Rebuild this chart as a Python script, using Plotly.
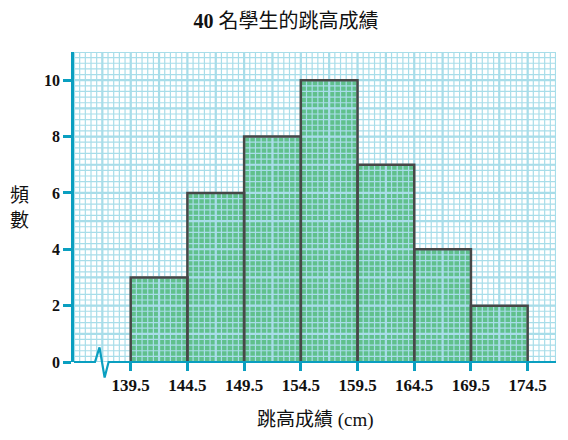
import numpy as np
import plotly.graph_objects as go

# ---------------- data ----------------
bin_edges = [139.5, 144.5, 149.5, 154.5, 159.5, 164.5, 169.5, 174.5]
frequencies = [3, 6, 8, 10, 7, 4, 2]
x_tick_labels = ["139.5", "144.5", "149.5", "154.5", "159.5", "164.5", "169.5", "174.5"]
y_tick_values = [0, 2, 4, 6, 8, 10]
y_tick_labels = ["0", "2", "4", "6", "8", "10"]

title_text = "<b>40</b> 名學生的跳高成績"
x_title_text = "跳高成績 (cm)"
y_title_text = "頻<br>數"

# ---------------- styles ----------------
X_RANGE = [134.5, 177.0]
Y_RANGE = [0.0, 11.0]
BAR_GREEN = "#60c08c"
OUTLINE = "#474747"
GRID = "#a8dde9"
AXIS = "#0a9fc0"
SERIF = "Liberation Serif, DejaVu Serif, serif"
CJK = "Noto Sans CJK TC, Noto Sans CJK SC, sans-serif"
MIXED = "Liberation Serif, Noto Sans CJK TC, serif"

# the page body has an 8px margin; size the figure so it fits the 568x440 window
PAGE_PAD = 8
FIG_W, FIG_H = 568 - 2 * PAGE_PAD, 440 - 2 * PAGE_PAD
PLOT_L, PLOT_T, PLOT_W, PLOT_H = 74 - PAGE_PAD, 52 - PAGE_PAD, 482, 310

fig = go.Figure()

# bars (fill only; outline drawn above the graph-paper grid)
lefts = bin_edges[:-1]
rights = bin_edges[1:]
mids = [(a + b) / 2 for a, b in zip(lefts, rights)]
widths = [b - a for a, b in zip(lefts, rights)]
fig.add_trace(go.Bar(
    x=mids, y=frequencies, width=widths,
    marker=dict(color=BAR_GREEN, line=dict(width=0)),
    hoverinfo="skip", showlegend=False,
))


# graph-paper grid drawn on top of the bars
def grid_trace(xstep, ystep, width):
    xs, ys = [], []
    for v in np.arange(X_RANGE[0], X_RANGE[1] + 1e-9, xstep):
        xs += [v, v, None]
        ys += [Y_RANGE[0], Y_RANGE[1], None]
    for v in np.arange(Y_RANGE[0], Y_RANGE[1] + 1e-9, ystep):
        xs += [X_RANGE[0], X_RANGE[1], None]
        ys += [v, v, None]
    return go.Scatter(x=xs, y=ys, mode="lines",
                      line=dict(color=GRID, width=width),
                      hoverinfo="skip", showlegend=False)


fig.add_trace(grid_trace(0.5, 0.2, 1.2))
fig.add_trace(grid_trace(2.5, 1.0, 2.2))

# bar outlines
ox, oy = [], []
for a, b, f in zip(lefts, rights, frequencies):
    ox += [a, a, b, b, None]
    oy += [0, f, f, 0, None]
fig.add_trace(go.Scatter(x=ox, y=oy, mode="lines",
                         line=dict(color=OUTLINE, width=2.5),
                         hoverinfo="skip", showlegend=False))

# horizontal axis line with a break (zigzag) symbol, in axis-domain units
span = X_RANGE[1] - X_RANGE[0]
brk_x = [(v - X_RANGE[0]) / span for v in [134.5, 136.35, 136.75, 137.2, 137.55, 177.0]]
brk_y = [v / Y_RANGE[1] for v in [0, 0, 0.52, -0.55, 0, 0]]
path = "M " + " L ".join(f"{a:.5f},{b:.5f}" for a, b in zip(brk_x, brk_y))
fig.add_shape(type="path", path=path, xref="x domain", yref="y domain",
              line=dict(color=AXIS, width=2.2), layer="above")

fig.update_layout(
    width=FIG_W, height=FIG_H,
    margin=dict(l=PLOT_L, r=FIG_W - PLOT_L - PLOT_W, t=PLOT_T,
                b=FIG_H - PLOT_T - PLOT_H, autoexpand=False),
    paper_bgcolor="white", plot_bgcolor="white",
    showlegend=False,
    title=dict(text=title_text, x=(286 - PAGE_PAD) / FIG_W, xref="container",
               xanchor="center",
               y=1 - (21 - PAGE_PAD) / FIG_H, yref="container", yanchor="middle",
               font=dict(family=MIXED, size=20, color="#111")),
    xaxis=dict(range=X_RANGE, showgrid=False, zeroline=False, showline=False,
               automargin=False,
               tickmode="array", tickvals=bin_edges, ticktext=x_tick_labels,
               ticks="outside", ticklen=8, tickwidth=2.5, tickcolor=AXIS,
               tickfont=dict(family=SERIF, size=17, color="#111", weight="bold"),
               fixedrange=True),
    yaxis=dict(range=Y_RANGE, showgrid=False, zeroline=False,
               automargin=False,
               showline=True, linecolor=AXIS, linewidth=2.5,
               tickmode="array", tickvals=y_tick_values, ticktext=y_tick_labels,
               ticks="outside", ticklen=8, tickwidth=2.5, tickcolor=AXIS,
               tickfont=dict(family=SERIF, size=16, color="#111", weight="bold"),
               fixedrange=True),
)

fig.add_annotation(text=y_title_text, xref="paper", yref="paper",
                   x=(19 - 74) / PLOT_W, y=(362 - 206) / PLOT_H,
                   xanchor="center", yanchor="middle", showarrow=False,
                   font=dict(family=CJK, size=19, color="#111"))
fig.add_annotation(text=x_title_text, xref="paper", yref="paper",
                   x=0.5, y=(362 - 420) / PLOT_H,
                   xanchor="center", yanchor="middle", showarrow=False,
                   font=dict(family=MIXED, size=19, color="#111"))

fig.write_html("out.html")
